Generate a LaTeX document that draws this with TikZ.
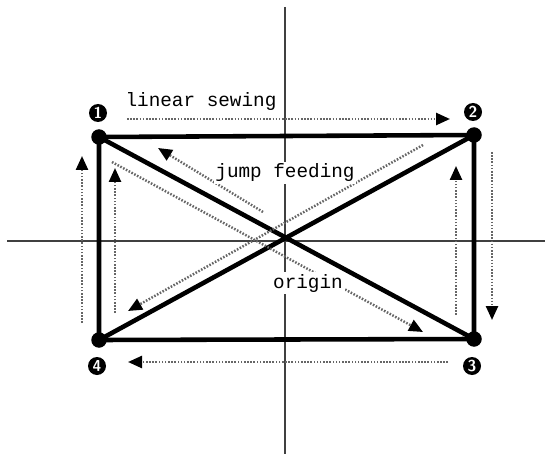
\documentclass[tikz,border=0pt]{standalone}
\usepackage{fontspec}
\setmonofont{Liberation Mono}
\usetikzlibrary{arrows.meta}
\tikzset{
  axis/.style={line width=1pt, draw=black!75},
  edge/.style={line width=2.6pt, draw=black},
  corner/.style={circle, fill=black, inner sep=0pt, minimum size=3.1mm},
  badge/.style={circle, fill=black, text=white, inner sep=0pt, minimum size=3.6mm,
    font=\sffamily\bfseries\small},
  tag/.style={fill=white, inner sep=1pt, font=\ttfamily\fontsize{11}{13}\selectfont},
  feedline/.style={draw=black!60, line width=1.4pt, dash pattern=on 0.9pt off 0.9pt,
    -{Triangle[length=2.8mm, width=2.4mm, black]}},
}

\begin{document}
\begin{tikzpicture}[x=0.2mm, y=-0.2mm]
  \useasboundingbox (0,0) rectangle (545,454);

  \draw[axis] (285,7) -- (285,454);
  \draw[axis] (7,241) -- (545,241);

  \node[corner] (c1) at (99,137) {};
  \node[corner] (c2) at (474,135) {};
  \node[corner] (c3) at (474,339) {};
  \node[corner] (c4) at (99,340) {};

  \node[badge] (n1) at (98,113) {1};
  \node[badge] (n2) at (473,112) {2};
  \node[badge] (n3) at (472,366) {3};
  \node[badge] (n4) at (97,366) {4};

  \draw[edge] (c1.center) -- (c2.center) -- (c3.center) -- (c4.center) -- cycle;
  \draw[edge] (c1.center) -- (c3.center);
  \draw[edge] (c2.center) -- (c4.center);

  \draw[feedline] (127,119) -- (450,119);
  \draw[feedline] (492,152) -- (492,320);
  \draw[feedline] (456,315) -- (456,166);
  \draw[feedline] (448,362) -- (128,362);
  \draw[feedline] (82,323) -- (82,156);
  \draw[feedline] (115,313) -- (115,168);
  \draw[feedline] (423,145) -- (128,311);
  \draw[feedline] (112,162) -- (423,332);
  \draw[feedline] (263,212) -- (158,148);

  \node[tag] (sew) at (201,101) {linear sewing};
  \node[tag] (jump) at (285,173) {jump feeding};
  \node[tag] (orig) at (308,283) {origin};
\end{tikzpicture}
\end{document}
